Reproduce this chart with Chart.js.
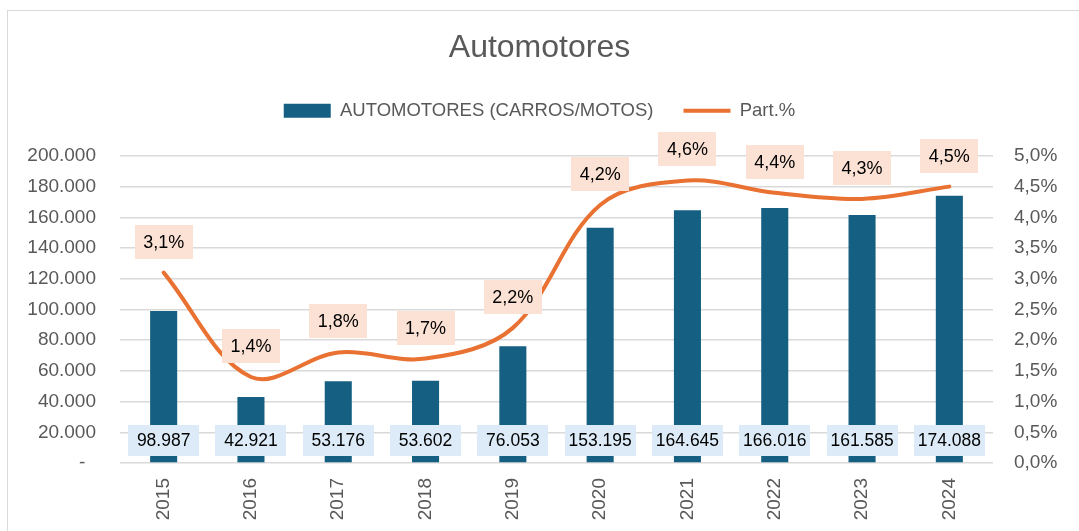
<!DOCTYPE html>
<html lang="es">
<head>
<meta charset="utf-8">
<title>Automotores</title>
<script src="https://cdn.jsdelivr.net/npm/chart.js@4.4.1/dist/chart.umd.min.js"></script>
<style>
  html, body { margin: 0; padding: 0; background: #fff; }
  body { width: 1079px; height: 531px; overflow: hidden; position: relative; }
  .frame { position: absolute; left: 7px; top: 10px; width: 1200px; height: 600px; border: 1.5px solid #d9d9d9; }
  .wrap { position: absolute; left: 0; top: 0; width: 1079px; height: 531px; }
</style>
</head>
<body>
<div class="frame"></div>
<div class="wrap"><canvas id="chart"></canvas></div>
<script>
// datos
const years = ["2015", "2016", "2017", "2018", "2019", "2020", "2021", "2022", "2023", "2024"];
const automotores = [98987, 42921, 53176, 53602, 76053, 153195, 164645, 166016, 161585, 174088];
const participacion = [3.1, 1.4, 1.8, 1.7, 2.2, 4.2, 4.6, 4.4, 4.3, 4.5];

const GRAY = "#595959";
const GRID = "#d9d9d9";
Chart.defaults.font.family = '"Liberation Sans", Arial, sans-serif';

function miles(v) {
  return String(v).replace(/\B(?=(\d{3})+(?!\d))/g, ".");
}
function pct(v) {
  return v.toFixed(1).replace(".", ",") + "%";
}

function drawBox(ctx, x, y, w, h, fill, text) {
  ctx.fillStyle = fill;
  ctx.fillRect(Math.round(x - w / 2), Math.round(y - h / 2), w, h);
  ctx.fillStyle = "#000";
  ctx.fillText(text, x, y + 1);
}

// etiquetas con recuadro (barras abajo, línea arriba del punto)
const boxLabels = {
  id: "boxLabels",
  beforeInit(chart) {
    const fit = chart.legend.fit;
    chart.legend.fit = function () { fit.call(this); this.height += 26; };
  },
  afterDraw(chart) {
    const ctx = chart.ctx;
    const base = chart.scales.y.getPixelForValue(0);
    ctx.save();
    ctx.textAlign = "center";
    ctx.textBaseline = "middle";
    ctx.font = '17.5px "Liberation Sans", Arial, sans-serif';
    chart.getDatasetMeta(0).data.forEach((bar, i) => {
      drawBox(ctx, bar.x, base - 22.5, 71, 31, "#dcebf7", miles(automotores[i]));
    });
    ctx.font = '18px "Liberation Sans", Arial, sans-serif';
    chart.getDatasetMeta(1).data.forEach((p, i) => {
      drawBox(ctx, p.x, p.y - 31, 58, 34, "#fbe2d5", pct(participacion[i]));
    });
    ctx.restore();
  }
};

new Chart(document.getElementById("chart"), {
  type: "bar",
  data: {
    labels: years,
    datasets: [
      {
        type: "bar",
        label: "AUTOMOTORES (CARROS/MOTOS)",
        data: automotores,
        backgroundColor: "#156082",
        borderWidth: 0,
        pointStyle: "rect",
        categoryPercentage: 1,
        barPercentage: 0.31,
        yAxisID: "y",
        order: 2
      },
      {
        type: "line",
        label: "Part.%",
        data: participacion,
        borderColor: "#e97132",
        backgroundColor: "#e97132",
        borderWidth: 4,
        borderCapStyle: "round",
        tension: 0.35,
        pointRadius: 0,
        pointStyle: "line",
        yAxisID: "y1",
        order: 1
      }
    ]
  },
  options: {
    responsive: true,
    maintainAspectRatio: false,
    animation: false,
    layout: { padding: 0 },
    plugins: {
      title: {
        display: true,
        text: "Automotores",
        color: GRAY,
        font: { size: 32, weight: "normal" },
        padding: { top: 29, bottom: 4 }
      },
      legend: {
        position: "top",
        labels: {
          color: GRAY,
          font: { size: 18.5 },
          usePointStyle: true,
          pointStyleWidth: 47,
          boxHeight: 14,
          padding: 30,
          sort: (a, b) => a.datasetIndex - b.datasetIndex
        }
      },
      tooltip: { enabled: false }
    },
    scales: {
      x: {
        grid: { display: false },
        border: { display: false },
        ticks: { color: GRAY, font: { size: 19 }, minRotation: 90, maxRotation: 90, padding: 7 },
        afterFit: (s) => { s.height = 68; }
      },
      y: {
        position: "left",
        min: 0,
        max: 200000,
        grid: { color: GRID, lineWidth: 1.5, drawTicks: false },
        border: { display: false },
        ticks: {
          stepSize: 20000,
          color: GRAY,
          font: { size: 19 },
          padding: 24,
          callback: (v) => (v === 0 ? "-  " : miles(v))
        },
        afterFit: (s) => { s.width = 120; }
      },
      y1: {
        position: "right",
        min: 0,
        max: 5,
        grid: { drawOnChartArea: false, drawTicks: false },
        border: { display: false },
        ticks: {
          stepSize: 0.5,
          color: GRAY,
          font: { size: 19 },
          padding: 21,
          callback: (v) => pct(v)
        },
        afterFit: (s) => { s.width = 86; }
      }
    }
  },
  plugins: [boxLabels]
});
</script>
</body>
</html>
